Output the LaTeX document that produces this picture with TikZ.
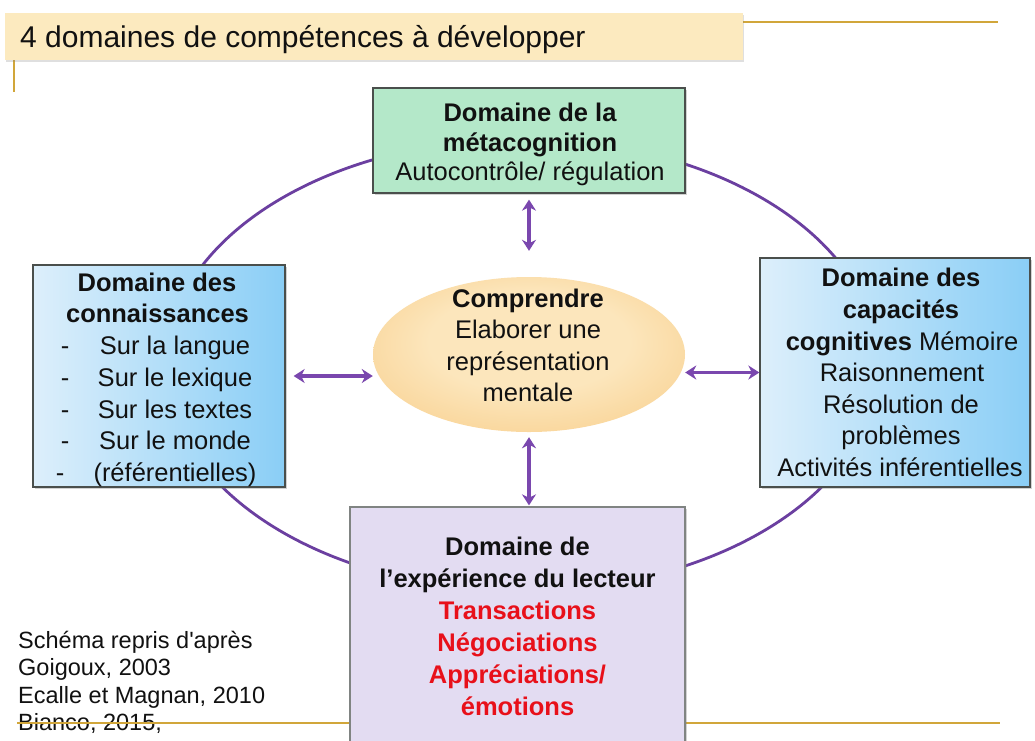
\documentclass[tikz,border=0pt]{standalone}
\usepackage{fontspec}
\newfontfamily\lib{Liberation Sans}
\usetikzlibrary{shadows,arrows.meta,shapes.geometric}
\definecolor{gold}{HTML}{D1A63A}
\definecolor{titlefill}{HTML}{FCEABF}
\definecolor{greenfill}{HTML}{B4E8C9}
\definecolor{blueL}{HTML}{DDEFFB}
\definecolor{blueR}{HTML}{8ACEF6}
\definecolor{purplefill}{HTML}{E3DCF2}
\definecolor{ringcol}{HTML}{6B3FA0}
\definecolor{arrcol}{HTML}{7A47AE}
\definecolor{boxline}{HTML}{4A4F4C}
\definecolor{ellin}{HTML}{FCE6BC}
\definecolor{ellout}{HTML}{F5BD68}
\definecolor{redtxt}{HTML}{E8101A}
\definecolor{txtcol}{HTML}{111111}
\pgfdeclareradialshading{ellshade}{\pgfpoint{0bp}{6bp}}{color(0bp)=(ellin); color(16bp)=(ellin); color(50bp)=(ellout)}
\begin{document}
\begin{tikzpicture}[x=1pt,y=-1pt,
  box/.style={draw=boxline, line width=1.3pt, inner sep=0pt, rectangle,
    drop shadow={opacity=0.35, shadow xshift=1.5pt, shadow yshift=-2pt}},
  txt/.style={anchor=base, inner sep=0pt, text=txtcol, font=\lib\fontsize{25.5}{30}\selectfont},
  btxt/.style={txt, font=\lib\bfseries\fontsize{25.5}{30}\selectfont},
  rtxt/.style={btxt, text=redtxt},
  ctxt/.style={anchor=base west, inner sep=0pt, text=txtcol, font=\lib\fontsize{23.5}{27}\selectfont},
  ring/.style={draw=ringcol, line width=2.8pt},
  goldline/.style={draw=gold, line width=2pt},
  arr/.style={draw=arrcol, line width=3.2pt, {Stealth[length=11pt,width=14pt,inset=3.5pt]}-{Stealth[length=11pt,width=14pt,inset=3.5pt]}}
]
\useasboundingbox (0,0) rectangle (1035,740);
\fill[white] (0,0) rectangle (1035,740);

% decorative gold lines
\draw[goldline] (700,22) -- (998,22);
\draw[goldline] (14,40) -- (14,92);

% title banner
\node[fill=titlefill, minimum width=738pt, minimum height=47pt, inner sep=0pt,
  drop shadow={opacity=0.25, shadow xshift=1pt, shadow yshift=-1.5pt}] (title) at (374,36.5) {};
\node[anchor=base west, inner sep=0pt, text=txtcol, font=\lib\fontsize{30}{34}\selectfont] (titletext) at (20,47) {4 domaines de compétences à développer};

% big ring
\draw[ring] (522,365) ellipse [x radius=356, y radius=226];

% citation
\node[ctxt] (c1) at (18,648) {Schéma repris d'après};
\node[ctxt] (c2) at (18,675.5) {Goigoux, 2003};
\node[ctxt] (c3) at (18,703) {Ecalle et Magnan, 2010};
\node[ctxt] (c4) at (18,730) {Bianco, 2015,};
\draw[goldline] (17,723) -- (1000,723);

% boxes
\node[box, fill=greenfill, minimum width=312pt, minimum height=105pt] (green) at (529,140.5) {};
\node[box, left color=blueL, right color=blueR, minimum width=252pt, minimum height=222pt] (lb) at (159,376) {};
\node[box, left color=blueL, right color=blueR, minimum width=270pt, minimum height=229pt] (rb) at (895,372.5) {};
\node[box, draw=boxline!70, fill=purplefill, minimum width=335pt, minimum height=240pt] (pb) at (517.5,627) {};
\node[ellipse, shading=ellshade, minimum width=312pt, minimum height=155pt, inner sep=0pt] (ell) at (529,354.5) {};

% green text
\node[btxt] (g1) at (530,121.5) {Domaine de la};
\node[btxt] (g2) at (530,151) {métacognition};
\node[txt]  (g3) at (530,180.5) {Autocontrôle/ régulation};

% left text
\node[btxt] (l1) at (157,291) {Domaine des};
\node[btxt] (l2) at (157.5,322.5) {connaissances};
\node[txt] (ld1) at (65,354.5) {-};
\node[txt] (ld2) at (65,386) {-};
\node[txt] (ld3) at (65,418) {-};
\node[txt] (ld4) at (65,449.5) {-};
\node[txt] (ld5) at (60,481) {-};
\node[txt] (l3) at (175,354.5) {Sur la langue};
\node[txt] (l4) at (175,386) {Sur le lexique};
\node[txt] (l5) at (175,418) {Sur les textes};
\node[txt] (l6) at (175,449.5) {Sur le monde};
\node[txt] (l7) at (175,481) {(référentielles)};

% right text
\node[btxt] (r1) at (901,286) {Domaine des};
\node[btxt] (r2) at (901,318) {capacités};
\node[txt]  (r3) at (902,350) {\bfseries cognitives\mdseries{} Mémoire};
\node[txt]  (r4) at (902,381.5) {Raisonnement};
\node[txt]  (r5) at (901,413) {Résolution de};
\node[txt]  (r6) at (901,444.5) {problèmes};
\node[txt]  (r7) at (900,476) {Activités inférentielles};

% ellipse text
\node[btxt] (e1) at (528,307) {Comprendre};
\node[txt]  (e2) at (528,338.5) {Elaborer une};
\node[txt]  (e3) at (528,370) {représentation};
\node[txt]  (e4) at (528,401.5) {mentale};

% purple text
\node[btxt] (p1) at (517.5,555) {Domaine de};
\node[btxt] (p2) at (517.5,587) {l’expérience du lecteur};
\node[rtxt] (p3) at (517.5,619.5) {Transactions};
\node[rtxt] (p4) at (517.5,651.5) {Négociations};
\node[rtxt] (p5) at (517.5,683.5) {Appréciations/};
\node[rtxt] (p6) at (517.5,715.5) {émotions};

% arrows
\draw[arr, shorten <=6pt, shorten >=26pt] (green.south) -- (green.south |- ell.north);
\draw[arr, shorten <=5pt, shorten >=1pt] (ell.south) -- (ell.south |- pb.north);
\draw[arr, shorten <=8pt] (lb.east) -- (lb.east -| ell.west);
\draw[arr] (rb.west -| ell.east) -- (rb.west);
\end{tikzpicture}
\end{document}
